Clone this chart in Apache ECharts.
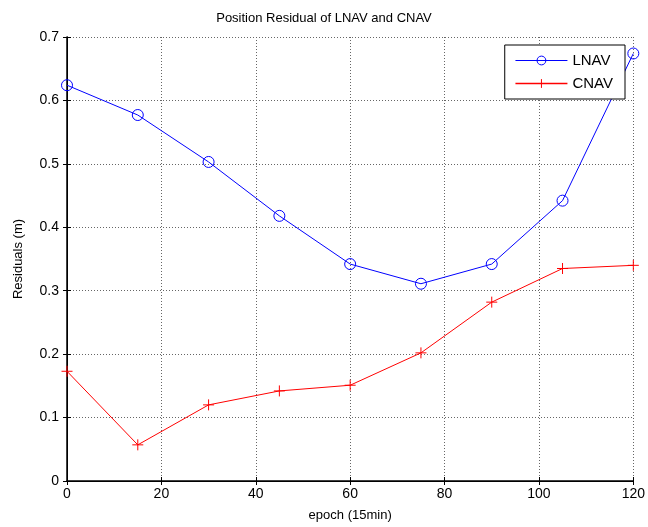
<!DOCTYPE html>
<html>
<head>
<meta charset="utf-8">
<script src="https://cdn.jsdelivr.net/npm/echarts@6/dist/echarts.min.js"></script>
<style>
  html, body { margin: 0; padding: 0; background: #fff; }
  #chart { width: 648px; height: 527px; }
</style>
</head>
<body>
<div id="chart"></div>
<script>
var epochs = [0, 15, 30, 45, 60, 75, 90, 105, 120];
var lnav = [0.624, 0.577, 0.503, 0.418, 0.342, 0.311, 0.342, 0.442, 0.674];
var cnav = [0.173, 0.057, 0.120, 0.142, 0.151, 0.202, 0.282, 0.335, 0.340];

function pairs(xs, ys) {
	var out = [];
	for (var i = 0; i < xs.length; i++) out.push([xs[i], ys[i]]);
	return out;
}

var font = 'Liberation Sans, Arial, sans-serif';
var plusPath = 'path://M5,0 L5,10 M0,5 L10,5';

var myChart = echarts.init(document.getElementById('chart'));
var option = {
	animation: false,
	title: {
		text: 'Position Residual of LNAV and CNAV',
		left: 'center',
		top: 7,
		textStyle: { fontFamily: font, fontSize: 13, fontWeight: 'normal', color: '#000' }
	},
	legend: {
		right: 23,
		top: 45,
		orient: 'vertical',
		backgroundColor: '#fff',
		borderColor: '#000',
		borderWidth: 1,
		borderRadius: 0,
		padding: [8, 12, 8, 10],
		itemGap: 8,
		itemWidth: 52,
		itemHeight: 11,
		textStyle: { fontFamily: font, fontSize: 15, color: '#000' },
		data: [
			{ name: 'LNAV', lineStyle: { color: '#0000ff', width: 1 }, itemStyle: { borderColor: '#0000ff', borderWidth: 1 } },
			{ name: 'CNAV', lineStyle: { color: '#ff0000', width: 1.4 }, itemStyle: { color: '#ff0000', borderColor: '#ff0000', borderWidth: 1 } }
		]
	},
	grid: { left: 67, right: 11, top: 37, bottom: 46 },
	xAxis: [{
		type: 'value', min: 0, max: 120, interval: 20,
		name: 'epoch (15min)', nameLocation: 'middle', nameGap: 28,
		nameTextStyle: { fontFamily: font, fontSize: 13, color: '#000' },
		axisLine: { lineStyle: { color: '#000', width: 1.5 } },
		axisTick: { inside: true, length: 4, lineStyle: { color: '#000' } },
		axisLabel: { fontFamily: font, fontSize: 14, color: '#000', margin: 6 },
		splitLine: { show: true, lineStyle: { color: '#666', type: [1, 2], width: 1 } }
	}, {
		type: 'value', min: 0, max: 120, interval: 20, position: 'top',
		axisLine: { show: true, lineStyle: { color: '#000' } },
		axisTick: { inside: true, length: 4, lineStyle: { color: '#000' } },
		axisLabel: { show: false }, splitLine: { show: false }
	}],
	yAxis: [{
		type: 'value', min: 0, max: 0.7, interval: 0.1,
		name: 'Residuals (m)', nameLocation: 'middle', nameGap: 42,
		nameTextStyle: { fontFamily: font, fontSize: 13, color: '#000' },
		axisLine: { show: true, lineStyle: { color: '#000', width: 1.5 } },
		axisTick: { show: true, inside: true, length: 4, lineStyle: { color: '#000' } },
		axisLabel: {
			fontFamily: font, fontSize: 14, color: '#000', margin: 8,
			formatter: function (v) { return v === 0 ? '0' : v.toFixed(1); }
		},
		splitLine: { show: true, lineStyle: { color: '#666', type: [1, 2], width: 1 } }
	}, {
		type: 'value', min: 0, max: 0.7, interval: 0.1, position: 'right',
		axisLine: { show: true, lineStyle: { color: '#000' } },
		axisTick: { show: true, inside: true, length: 4, lineStyle: { color: '#000' } },
		axisLabel: { show: false }, splitLine: { show: false }
	}],
	series: [{
		name: 'LNAV',
		type: 'line',
		data: pairs(epochs, lnav),
		symbol: 'circle',
		symbolSize: 11,
		showAllSymbol: true,
		itemStyle: { color: 'rgba(0,0,0,0)', borderColor: '#0000ff', borderWidth: 1 },
		lineStyle: { color: '#0000ff', width: 1 }
	}, {
		name: 'CNAV',
		type: 'line',
		data: pairs(epochs, cnav),
		symbol: plusPath,
		symbolSize: 11,
		showAllSymbol: true,
		itemStyle: { color: '#ff0000', borderColor: '#ff0000', borderWidth: 1 },
		lineStyle: { color: '#ff0000', width: 1 }
	}]
};
myChart.setOption(option);
</script>
</body>
</html>
